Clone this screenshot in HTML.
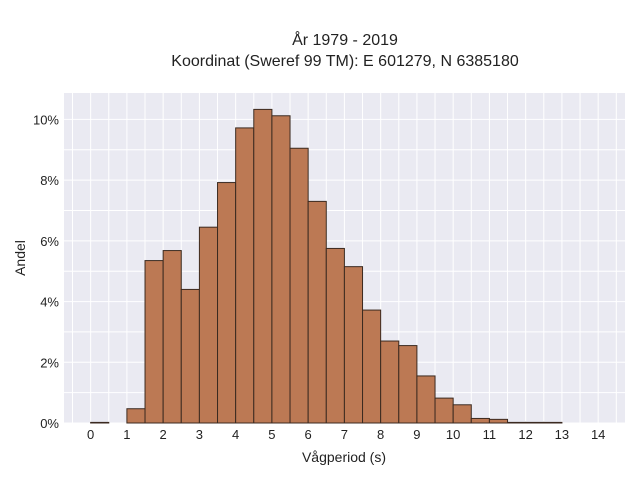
<!DOCTYPE html>
<html><head><meta charset="utf-8"><style>
body{margin:0;background:#fff;}
svg{display:block;font-family:"Liberation Sans",sans-serif;}
</style></head><body>
<svg id="chart" width="640" height="480" xmlns="http://www.w3.org/2000/svg">
<text x="345" y="45" text-anchor="middle" font-size="16" fill="#222">År 1979 - 2019</text>
<text x="345" y="66" text-anchor="middle" font-size="16" fill="#222">Koordinat (Sweref 99 TM): E 601279, N 6385180</text>
<rect x="64" y="93" width="561" height="330" fill="#eaeaf2"/>
<g id="grid"></g>
<g id="bars"></g>
<g id="xticks"></g>
<g id="yticks"></g>
<text x="344" y="462" text-anchor="middle" font-size="14" fill="#222">Vågperiod (s)</text>
<text x="25" y="258" text-anchor="middle" font-size="14" fill="#222" transform="rotate(-90 25 258)">Andel</text>
</svg>
<script>
const binStarts = [0,0.5,1,1.5,2,2.5,3,3.5,4,4.5,5,5.5,6,6.5,7,7.5,8,8.5,9,9.5,10,10.5,11,11.5,12,12.5];
const shares = [0.02,0,0.47,5.35,5.68,4.4,6.45,7.92,9.72,10.33,10.12,9.05,7.3,5.75,5.15,3.72,2.7,2.55,1.55,0.82,0.6,0.15,0.12,0.02,0.02,0.02];
const xTickLabels = [0,1,2,3,4,5,6,7,8,9,10,11,12,13,14];
const yTickLabels = [0,2,4,6,8,10];
const binWidth = 0.5;
const X0=64,X1=625,Y0=423,Y1=93;
const xMin=-0.735,xMax=14.74,yMin=0,yMax=10.87;
const xs=v=>X0+(v-xMin)/(xMax-xMin)*(X1-X0);
const ys=v=>Y0-(v-yMin)/(yMax-yMin)*(Y0-Y1);
const NS="http://www.w3.org/2000/svg";
function mk(tag,attrs,parent){const e=document.createElementNS(NS,tag);for(const k in attrs)e.setAttribute(k,attrs[k]);document.getElementById(parent).appendChild(e);return e;}
for(let v=-0.5;v<=14.5;v+=0.5){
  const l=mk('line',{x1:xs(v),x2:xs(v),y1:Y1,y2:Y0,stroke:'#fff','stroke-width':1},'grid');
  
  
}
for(let v=0;v<=10;v+=1){
  const l=mk('line',{x1:X0,x2:X1,y1:ys(v),y2:ys(v),stroke:'#fff','stroke-width':1},'grid');
  
  
}
binStarts.forEach((b,i)=>{
  const r=mk('rect',{x:xs(b),y:ys(shares[i]),width:xs(b+binWidth)-xs(b),height:ys(0)-ys(shares[i]),fill:'#bc7954',stroke:'#3b2a20','stroke-width':1},'bars');
  
  
});
xTickLabels.forEach(v=>{
  const t=mk('text',{x:xs(v),y:439,'text-anchor':'middle','font-size':13,fill:'#222'},'xticks');
  t.textContent=v;
  
  
});
yTickLabels.forEach(v=>{
  const t=mk('text',{x:59,y:ys(v)+5,'text-anchor':'end','font-size':13,fill:'#222'},'yticks');
  t.textContent=v+'%';
  
  
});
</script>
</body></html>
